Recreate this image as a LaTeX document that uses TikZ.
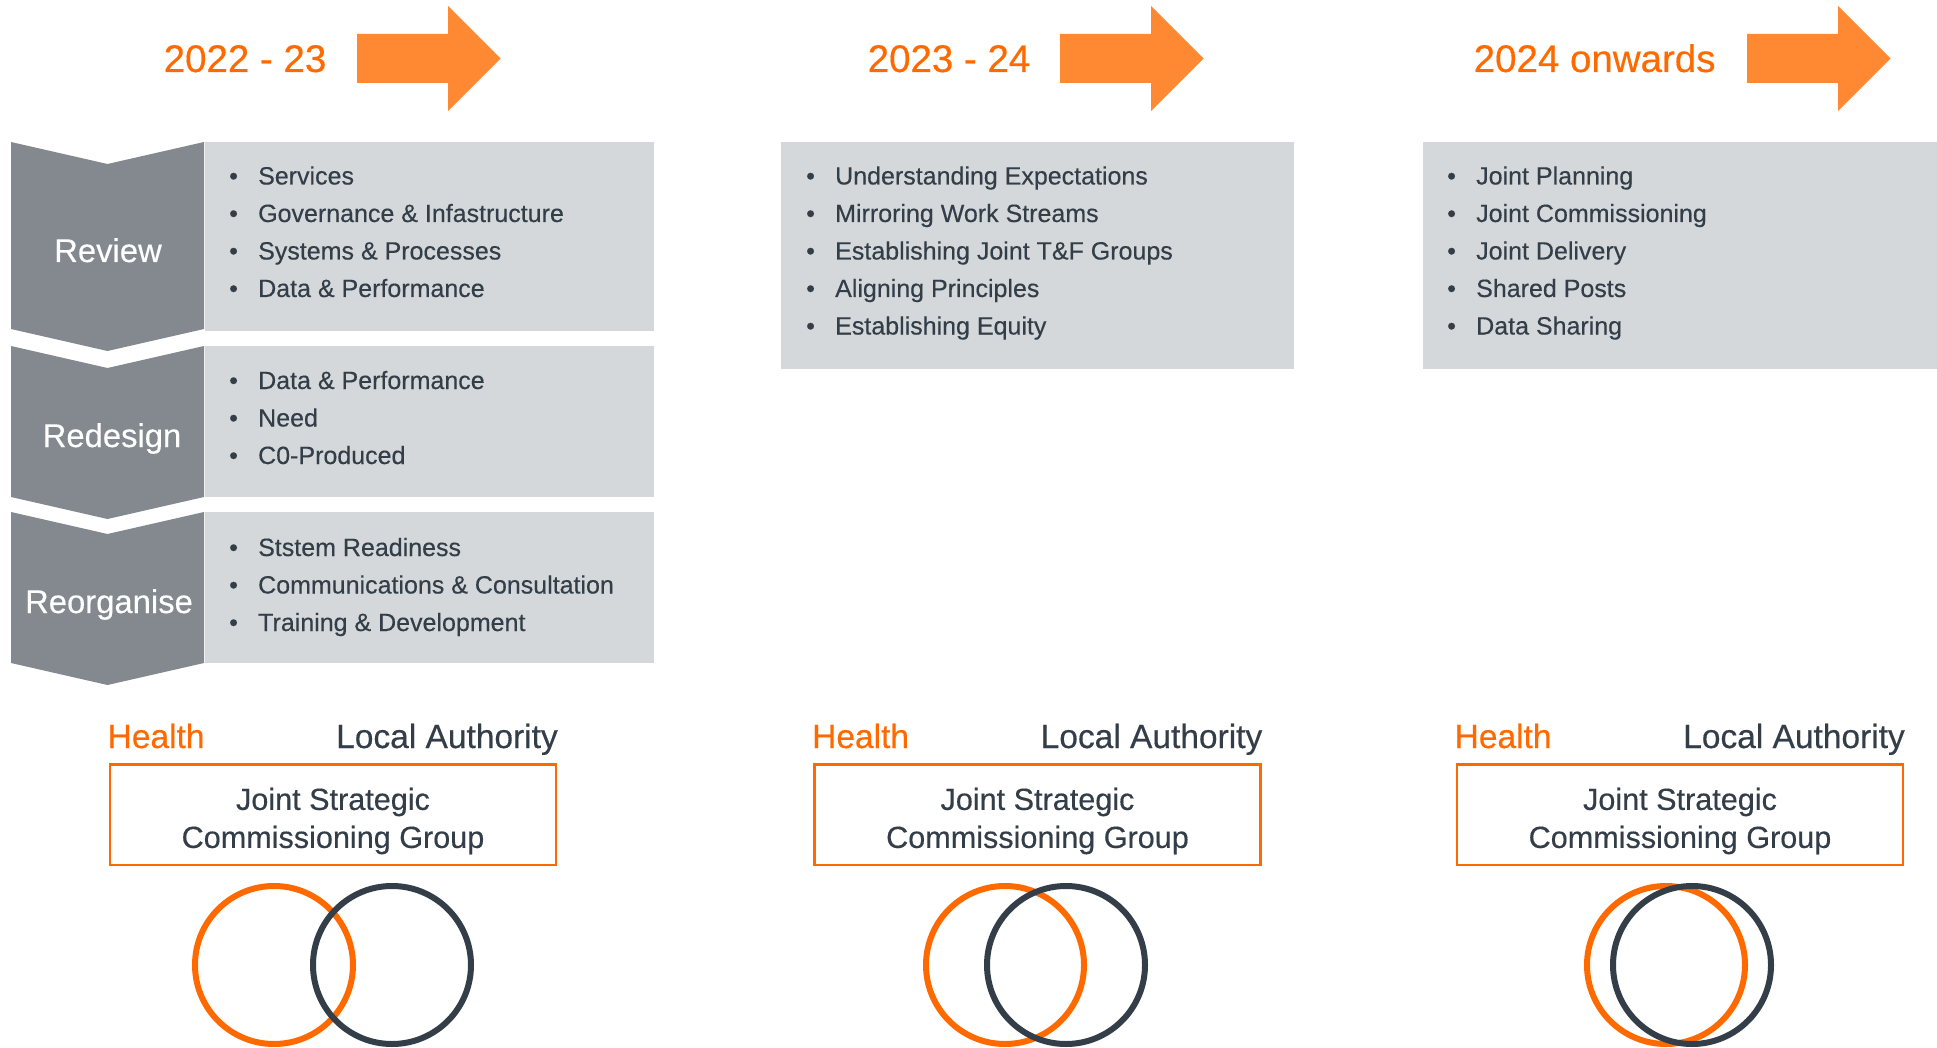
\documentclass[tikz,border=0pt]{standalone}
\usepackage{fontspec}
\setmainfont[FakeBold=0.35]{Liberation Sans}
\definecolor{orangeT}{HTML}{FF6A00}
\definecolor{arrowO}{HTML}{FF8833}
\definecolor{chevG}{HTML}{83898F}
\definecolor{boxG}{HTML}{D5D8DB}
\definecolor{darkT}{HTML}{333E48}
\tikzset{
  titletext/.style={text=orangeT, font=\fontsize{38.5}{44}\selectfont, inner sep=0, anchor=base west},
  bigarrow/.style={fill=arrowO},
  chev/.style={fill=chevG},
  greybox/.style={fill=boxG},
  chevlabel/.style={text=white, font=\fontsize{32.8}{38}\selectfont, inner sep=0, anchor=base},
  itemtext/.style={text=darkT, font=\fontsize{25}{30}\selectfont, inner sep=0, anchor=base west},
  healthtext/.style={text=orangeT, font=\fontsize{33.5}{38}\selectfont, inner sep=0, anchor=base west},
  latext/.style={text=darkT, font=\fontsize{33.5}{38}\selectfont, inner sep=0, anchor=base east},
  jsgbox/.style={draw=orangeT, line width=2.5pt, minimum width=446pt, minimum height=100.5pt, inner sep=0},
  jsgtext/.style={text=darkT, font=\fontsize{30.6}{38}\selectfont, align=center, inner sep=0},
  hcirc/.style={draw=orangeT, line width=6pt, circle, minimum size=158pt, inner sep=0},
  lcirc/.style={draw=darkT, line width=6pt, circle, minimum size=158pt, inner sep=0}
}
\newcommand\mylist[4]{%
  \foreach[count=\i] \t in {#4}
    \node[itemtext] (#1\i) at (#2,{#3+37.5*(\i-1)}) {\makebox[29pt][l]{\textbullet}\t};}
\newcommand\myarrow[1]{%
  \fill[bigarrow] (#1,34) -- ++(91,0) -- ++(0,-28) -- ++(52.5,52.5) -- ++(-52.5,52.5) -- ++(0,-28) -- ++(-91,0) -- cycle;}
\newcommand\mychev[2]{%
  \fill[chev] (11,#1) -- (107.5,#1+22) -- (204,#1) -- (204,#2) -- (107.5,#2+22) -- (11,#2) -- cycle;}
\begin{document}
\begin{tikzpicture}[x=1pt,y=-1pt]
\useasboundingbox (0,0) rectangle (1937,1048);
\fill[white] (0,0) rectangle (1937,1048);

% titles and arrows
\node[titletext] (t1) at (163.5,72) {2022 - 23};
\node[titletext] (t2) at (867.5,72) {2023 - 24};
\node[titletext] (t3) at (1473.5,72) {2024 onwards};
\myarrow{357}
\myarrow{1060}
\myarrow{1747}

% panel 1 : chevrons and boxes
\fill[greybox] (205,142) rectangle (654,331);
\fill[greybox] (205,346) rectangle (654,497);
\fill[greybox] (205,512) rectangle (654,663);
\mychev{142}{329}
\mychev{346}{497}
\mychev{512}{663}
\node[chevlabel] (review) at (108,262) {Review};
\node[chevlabel] (redesign) at (112,447) {Redesign};
\node[chevlabel] (reorg) at (109,613) {Reorganise};

\mylist{rv}{229}{184.5}{Services,Governance \& Infastructure,Systems \& Processes,Data \& Performance}
\mylist{rd}{229}{389}{Data \& Performance,Need,C0-Produced}
\mylist{ro}{229}{556}{Ststem Readiness,Communications \& Consultation,Training \& Development}

% panel 2
\fill[greybox] (781,142) rectangle (1294,369);
\mylist{pb}{806}{184.5}{Understanding Expectations,Mirroring Work Streams,Establishing Joint T\&F Groups,Aligning Principles,Establishing Equity}

% panel 3
\fill[greybox] (1423,142) rectangle (1937,369);
\mylist{pc}{1447}{184.5}{Joint Planning,Joint Commissioning,Joint Delivery,Shared Posts,Data Sharing}

% bottom groups
\foreach \n/\bx/\ox/\dx in {a/333/274/392, b/1037.5/1005/1066, c/1680/1666/1692}{
  \node[healthtext] (h\n) at ({\bx-225.5},748) {Health};
  \node[latext] (l\n) at ({\bx+225},748) {Local Authority};
  \node[jsgbox] (g\n) at (\bx,814.5) {};
  \node[jsgtext] (gt\n) at (\bx,821) {Joint Strategic\\Commissioning Group};
  \node[hcirc] (ch\n) at (\ox,965) {};
  \node[lcirc] (cl\n) at (\dx,965) {};
}
\end{tikzpicture}
\end{document}
